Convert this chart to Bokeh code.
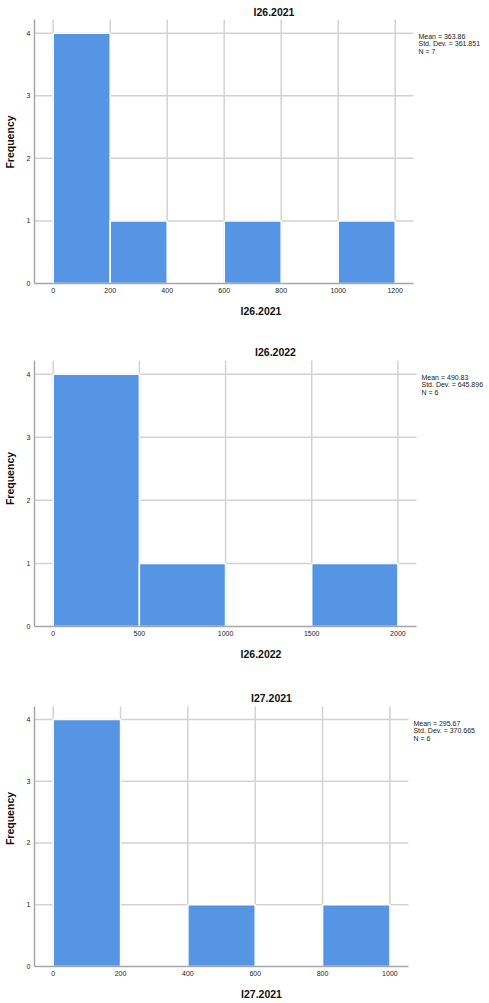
from bokeh.plotting import figure
from bokeh.models import Label, FixedTicker, Range1d
from bokeh.layouts import column
from bokeh.embed import file_html
from bokeh.resources import INLINE

# ---- data ----
titles = ["I26.2021", "I26.2022", "I27.2021"]
edges_1 = [0, 200, 400, 600, 800, 1000, 1200]
counts_1 = [4, 1, 0, 1, 0, 1]
edges_2 = [0, 500, 1000, 1500, 2000]
counts_2 = [4, 1, 0, 1]
edges_3 = [0, 200, 400, 600, 800, 1000]
counts_3 = [4, 0, 1, 0, 1]
xticks_1 = [0, 200, 400, 600, 800, 1000, 1200]
xticks_2 = [0, 500, 1000, 1500, 2000]
xticks_3 = [0, 200, 400, 600, 800, 1000]
yticks = [0, 1, 2, 3, 4]
stats_1 = ["Mean = 363.86", "Std. Dev. = 361.851", "N = 7"]
stats_2 = ["Mean = 490.83", "Std. Dev. = 645.896", "N = 6"]
stats_3 = ["Mean = 295.67", "Std. Dev. = 370.665", "N = 6"]

FONT = "Liberation Sans"
BAR = "#5595e4"
GRID = "#d2d2d2"
AXIS = "#a6a6a6"


def hist(title, edges, counts, xticks, stats, xr, x_plot_end, yr, y_plot_end,
         fw, fh, bl, bb, title_dy):
    p = figure(frame_width=fw, frame_height=fh, x_range=Range1d(*xr), y_range=Range1d(*yr),
               output_backend="svg", toolbar_location=None,
               min_border_left=bl, min_border_top=0, min_border_bottom=bb, min_border_right=0)
    p.outline_line_color = None
    p.background_fill_color = "white"
    p.border_fill_color = "white"
    p.grid.visible = False

    # grid lines (from tick lists), under the bars
    p.segment(x0=xticks, y0=[0] * len(xticks), x1=xticks, y1=[y_plot_end] * len(xticks),
              line_color=GRID, line_width=1.5, level="underlay")
    yg = yticks[1:]
    p.segment(x0=[xr[0]] * len(yg), y0=yg, x1=[x_plot_end] * len(yg), y1=yg,
              line_color=GRID, line_width=1.5, level="underlay")

    left = [edges[i] for i in range(len(counts)) if counts[i] > 0]
    right = [edges[i + 1] for i in range(len(counts)) if counts[i] > 0]
    top = [c for c in counts if c > 0]
    p.quad(left=left, right=right, top=top, bottom=0, fill_color=BAR,
           line_color="white", line_width=1.5)

    p.xaxis.ticker = FixedTicker(ticks=xticks)
    p.yaxis.ticker = FixedTicker(ticks=yticks)
    p.xaxis.bounds = (xr[0], x_plot_end)
    p.yaxis.bounds = (0, y_plot_end)
    for ax in (p.xaxis[0], p.yaxis[0]):
        ax.axis_line_color = AXIS
        ax.axis_line_width = 1.5
        ax.major_tick_line_color = None
        ax.minor_tick_line_color = None
        ax.major_tick_out = 0
        ax.major_tick_in = 0
        ax.major_label_text_font = FONT
        ax.major_label_text_font_size = "7px"
        ax.major_label_text_color = "#222222"
        ax.major_label_standoff = 4
        ax.axis_label_text_font = FONT
        ax.axis_label_text_font_size = "10.5px"
        ax.axis_label_text_font_style = "bold"
        ax.axis_label_text_color = "#111111"
    p.xaxis.axis_label = title
    p.xaxis.axis_label_standoff = 9
    p.yaxis.axis_label = "Frequency"
    p.yaxis.axis_label_standoff = 8
    p.yaxis.major_label_orientation = "horizontal"

    # chart title above the plot area
    p.add_layout(Label(x=(xr[0] + x_plot_end) / 2, y=y_plot_end, x_offset=50, y_offset=title_dy,
                       text=title, text_align="center", text_baseline="middle", text_font=FONT,
                       text_font_size="10.5px", text_font_style="bold", text_color="#111111"))
    # statistics box text at the right
    for i, s in enumerate(stats):
        p.add_layout(Label(x=x_plot_end, y=y_plot_end, x_offset=5, y_offset=-17 - 7.4 * i, text=s,
                           text_align="left", text_baseline="middle", text_font=FONT,
                           text_font_size="7px", text_color="#222222"))
    return p


p1 = hist(titles[0], edges_1, counts_1, xticks_1, stats_1, (-65.6, 1523.9), 1264.2,
          (0, 4.522), 4.218, 453, 283, 34, 47, 8)
p2 = hist(titles[1], edges_2, counts_2, xticks_2, stats_2, (-108.5, 2520), 2108,
          (0, 4.692), 4.217, 453, 296, 34, 44, 8)
p3 = hist(titles[2], edges_3, counts_3, xticks_3, stats_3, (-55.5, 1292.8), 1055,
          (0, 4.793), 4.21, 454, 296, 33, 37, 9)

layout = column(p1, p2, p3, spacing=0)
open("out.html", "w").write(file_html(layout, INLINE))
